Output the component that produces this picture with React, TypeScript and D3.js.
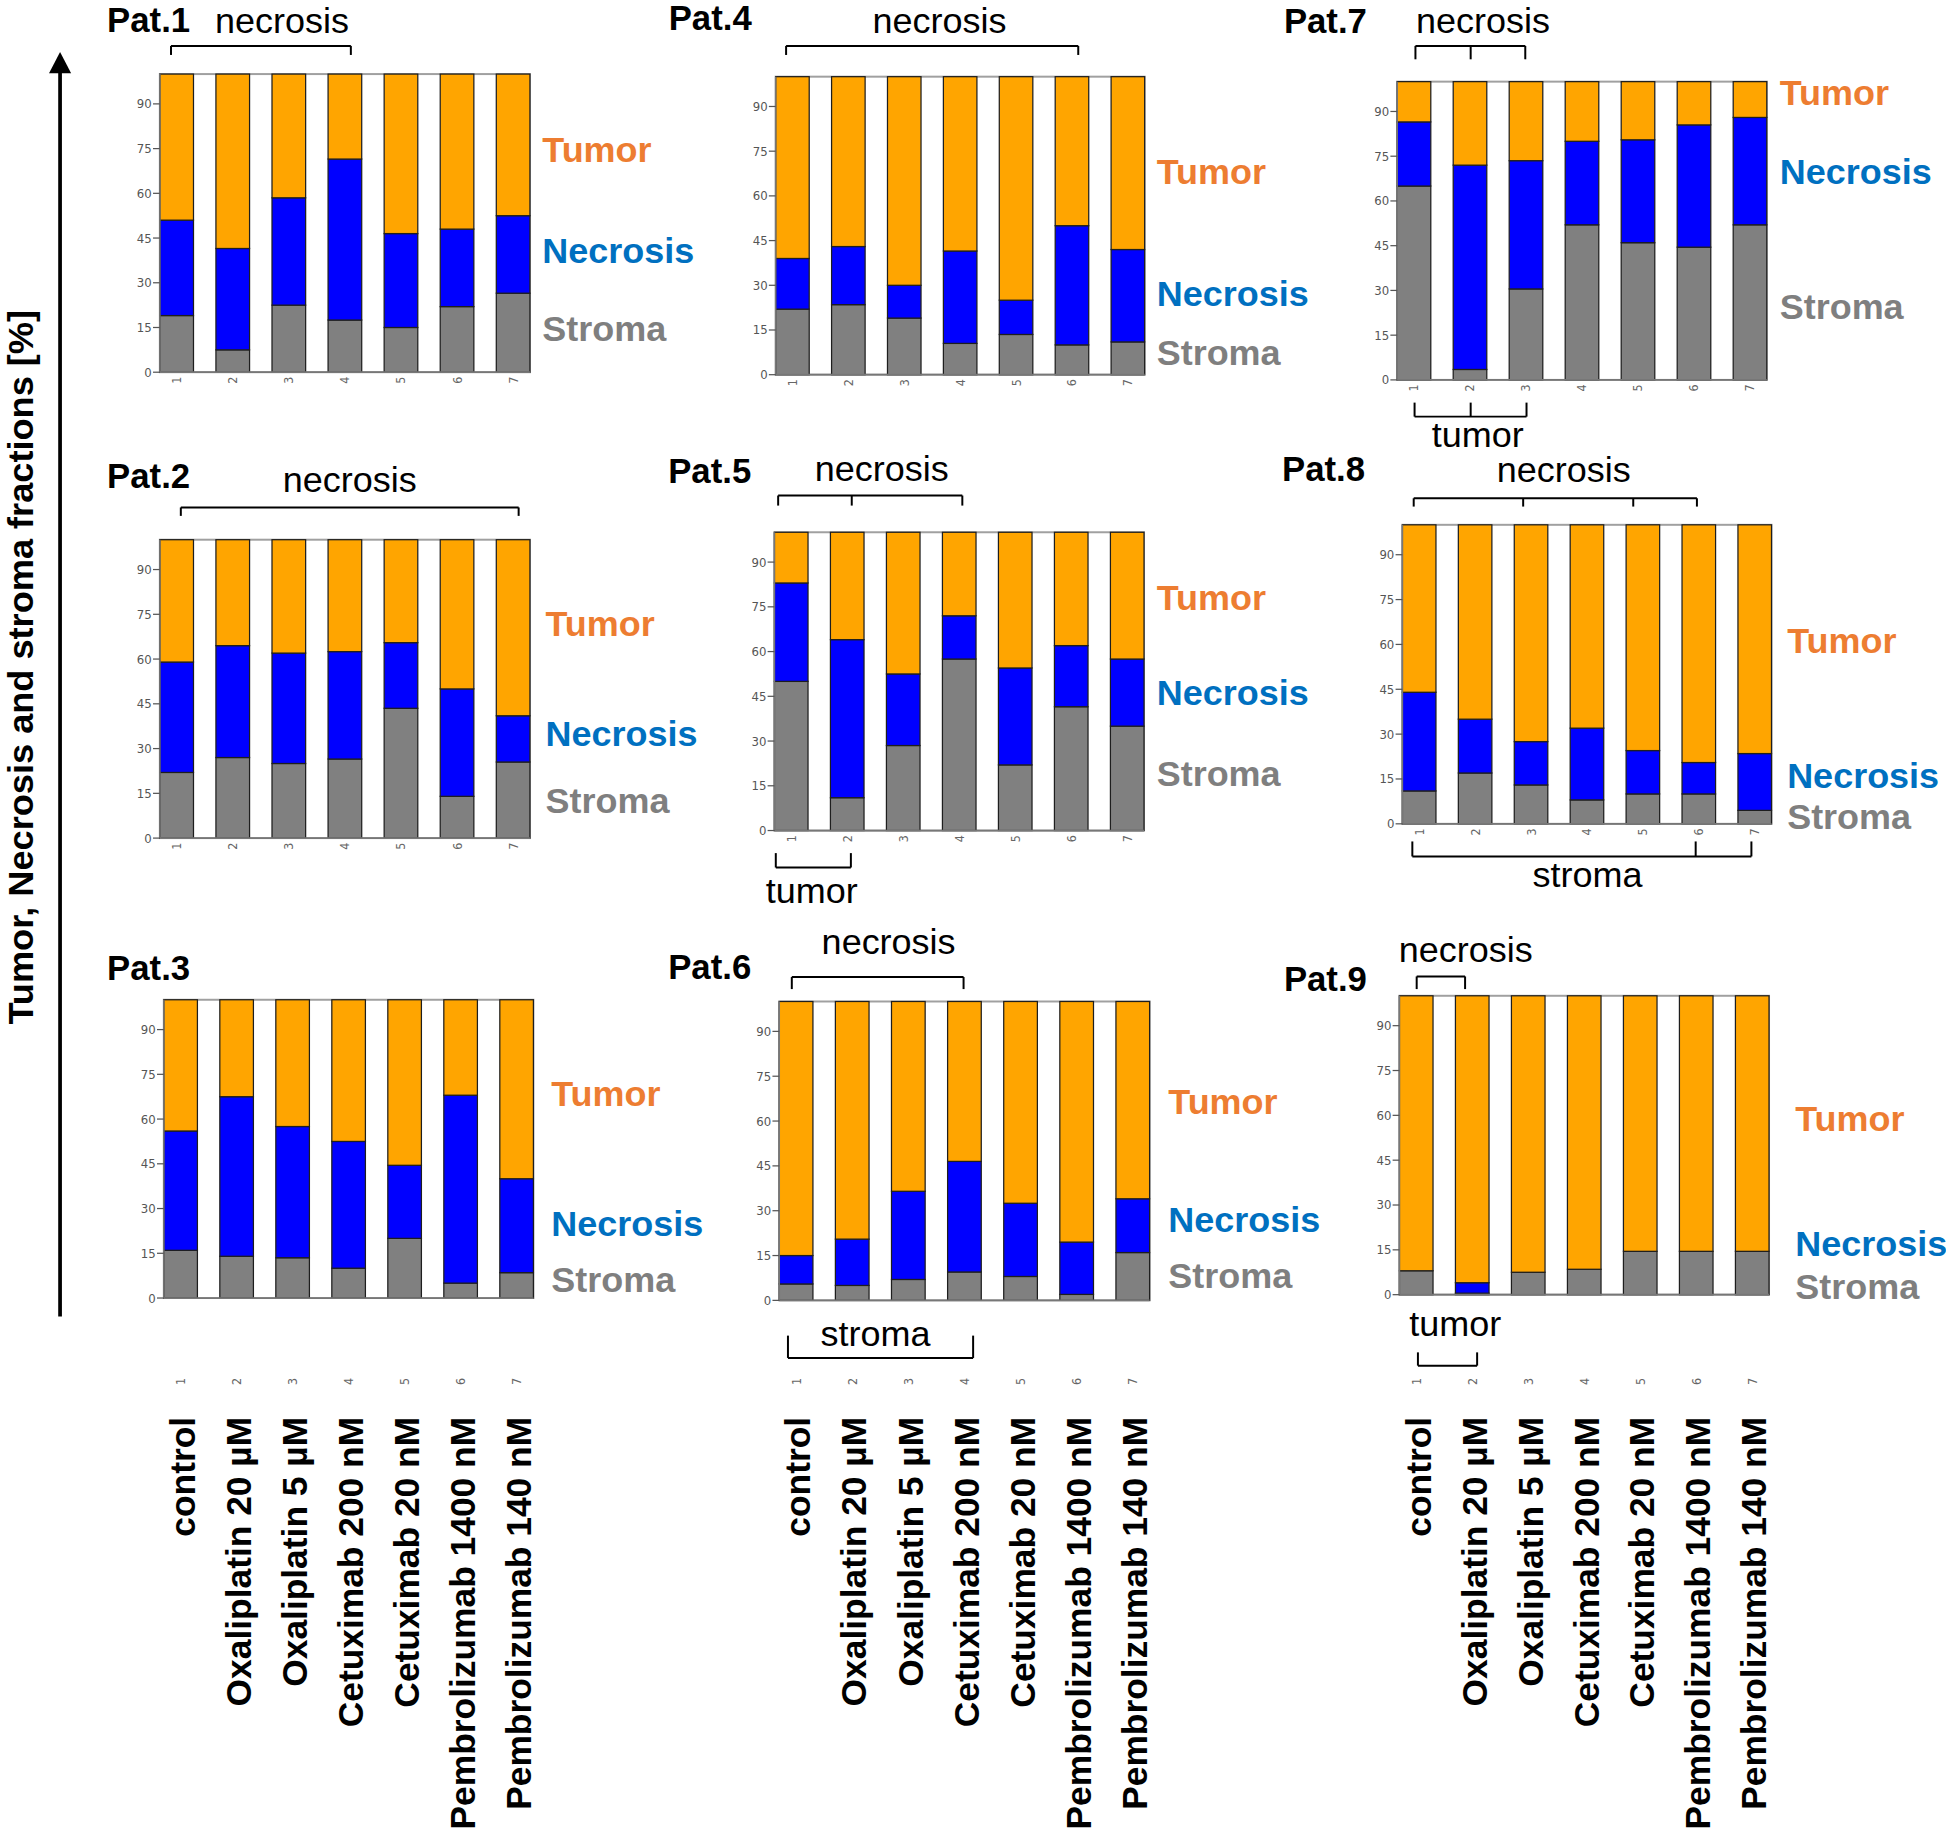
import React from "react";
import * as d3 from "d3";

// ---------- data ----------
const sampleIds = ["1", "2", "3", "4", "5", "6", "7"];
const treatments = [
  "control",
  "Oxaliplatin 20 µM",
  "Oxaliplatin 5 µM",
  "Cetuximab 200 nM",
  "Cetuximab 20 nM",
  "Pembrolizumab 1400 nM",
  "Pembrolizumab 140 nM",
];
const yTicks = [0, 15, 30, 45, 60, 75, 90];
const keys = ["stroma", "necrosis", "tumor"];
const legendNames = ["Stroma", "Necrosis", "Tumor"];

const pat1Stroma = [19, 7.5, 22.5, 17.5, 15, 22, 26.5];
const pat1Necrosis = [32, 34, 36, 54, 31.5, 26, 26];
const pat1Tumor = [49, 58.5, 41.5, 28.5, 53.5, 52, 47.5];

const pat2Stroma = [22, 27, 25, 26.5, 43.5, 14, 25.5];
const pat2Necrosis = [37, 37.5, 37, 36, 22, 36, 15.5];
const pat2Tumor = [41, 35.5, 38, 37.5, 34.5, 50, 59];

const pat3Stroma = [16, 14, 13.5, 10, 20, 5, 8.5];
const pat3Necrosis = [40, 53.5, 44, 42.5, 24.5, 63, 31.5];
const pat3Tumor = [44, 32.5, 42.5, 47.5, 55.5, 32, 60];

const pat4Stroma = [22, 23.5, 19, 10.5, 13.5, 10, 11];
const pat4Necrosis = [17, 19.5, 11, 31, 11.5, 40, 31];
const pat4Tumor = [61, 57, 70, 58.5, 75, 50, 58];

const pat5Stroma = [50, 11, 28.5, 57.5, 22, 41.5, 35];
const pat5Necrosis = [33, 53, 24, 14.5, 32.5, 20.5, 22.5];
const pat5Tumor = [17, 36, 47.5, 28, 45.5, 38, 42.5];

const pat6Stroma = [5.5, 5, 7, 9.5, 8, 2, 16];
const pat6Necrosis = [9.5, 15.5, 29.5, 37, 24.5, 17.5, 18];
const pat6Tumor = [85, 79.5, 63.5, 53.5, 67.5, 80.5, 66];

const pat7Stroma = [65, 3.5, 30.5, 52, 46, 44.5, 52];
const pat7Necrosis = [21.5, 68.5, 43, 28, 34.5, 41, 36];
const pat7Tumor = [13.5, 28, 26.5, 20, 19.5, 14.5, 12];

const pat8Stroma = [11, 17, 13, 8, 10, 10, 4.5];
const pat8Necrosis = [33, 18, 14.5, 24, 14.5, 10.5, 19];
const pat8Tumor = [56, 65, 72.5, 68, 75.5, 79.5, 76.5];

const pat9Stroma = [8, 0.5, 7.5, 8.5, 14.5, 14.5, 14.5];
const pat9Necrosis = [0, 3.5, 0, 0, 0, 0, 0];
const pat9Tumor = [92, 96, 92.5, 91.5, 85.5, 85.5, 85.5];

const yAxisTitle = "Tumor, Necrosis and stroma fractions [%]";

// ---------- layout (reference units, viewBox 1568 x 1479) ----------
const colors = { stroma: "#808080", necrosis: "#0000ff", tumor: "#ffa500" };
const labelColors = { stroma: "#7f7f7f", necrosis: "#0070c0", tumor: "#ed7d31" };
const FONT = "'Liberation Sans', Arial, Helvetica, sans-serif";

const panels = [
  { name: "Pat.1", data: [pat1Stroma, pat1Necrosis, pat1Tumor], x0: 128.8, x1: 427, y0: 59.7, y1: 300, tx: 86.3, ty: 26, lx: 437, ly: [274.5, 212, 130.8], numbers: true },
  { name: "Pat.4", data: [pat4Stroma, pat4Necrosis, pat4Tumor], x0: 625, x1: 922.3, y0: 61.8, y1: 302, tx: 538.8, ty: 24.5, lx: 932, ly: [294, 247, 148.3], numbers: true },
  { name: "Pat.7", data: [pat7Stroma, pat7Necrosis, pat7Tumor], x0: 1125.8, x1: 1423.6, y0: 65.8, y1: 306.2, tx: 1034.5, ty: 26.9, lx: 1434, ly: [257.3, 148.3, 84.6], numbers: true },
  { name: "Pat.2", data: [pat2Stroma, pat2Necrosis, pat2Tumor], x0: 128.8, x1: 427, y0: 435, y1: 675.5, tx: 86.3, ty: 393.5, lx: 439.5, ly: [654.9, 601, 513], numbers: true },
  { name: "Pat.5", data: [pat5Stroma, pat5Necrosis, pat5Tumor], x0: 624, x1: 921.8, y0: 429, y1: 669.4, tx: 538.4, ty: 388.9, lx: 932, ly: [633.4, 568.6, 491.5], numbers: true },
  { name: "Pat.8", data: [pat8Stroma, pat8Necrosis, pat8Tumor], x0: 1130, x1: 1427.4, y0: 423, y1: 664, tx: 1033, ty: 387.3, lx: 1440, ly: [668.3, 635.2, 526.5], numbers: true },
  { name: "Pat.3", data: [pat3Stroma, pat3Necrosis, pat3Tumor], x0: 132, x1: 429.8, y0: 805.8, y1: 1046.2, tx: 86.3, ty: 789.7, lx: 444.2, ly: [1041.6, 996.5, 891.2], numbers: false },
  { name: "Pat.6", data: [pat6Stroma, pat6Necrosis, pat6Tumor], x0: 627.9, x1: 926.3, y0: 807.2, y1: 1048.1, tx: 538.4, ty: 789.1, lx: 941.4, ly: [1038.1, 993, 897.7], numbers: false },
  { name: "Pat.9", data: [pat9Stroma, pat9Necrosis, pat9Tumor], x0: 1127.6, x1: 1425.4, y0: 802.6, y1: 1043.5, tx: 1034.5, ty: 798.5, lx: 1446.5, ly: [1047, 1012.6, 911.4], numbers: false },
];

const brackets = [
  { y: 37, y2: 44.3, xs: [137.8, 282.7], text: "necrosis", tcx: 227.2, tcy: 26.5 },
  { y: 37, y2: 44.3, xs: [633.4, 868.8], text: "necrosis", tcx: 757, tcy: 26.5 },
  { y: 37, y2: 47.8, xs: [1140.5, 1185, 1229], text: "necrosis", tcx: 1195, tcy: 27 },
  { y: 335.8, y2: 324.5, xs: [1139.8, 1185, 1230], text: "tumor", tcx: 1190.7, tcy: 360 },
  { y: 409, y2: 415.8, xs: [145.7, 417.9], text: "necrosis", tcx: 281.8, tcy: 396.2 },
  { y: 399.4, y2: 407.5, xs: [627, 686.3, 775.4], text: "necrosis", tcx: 710.4, tcy: 387.3 },
  { y: 699.2, y2: 687.6, xs: [625.1, 685.6], text: "tumor", tcx: 654.1, tcy: 727.9 },
  { y: 401.6, y2: 408.3, xs: [1139.1, 1227.3, 1316, 1367.3], text: "necrosis", tcx: 1260, tcy: 388.7 },
  { y: 690.3, y2: 678.2, xs: [1138, 1366.3, 1411.2], text: "stroma", tcx: 1279.1, tcy: 715 },
  { y: 787.5, y2: 797.2, xs: [638, 776.4], text: "necrosis", tcx: 716, tcy: 769 },
  { y: 1094.5, y2: 1076.5, xs: [634.9, 784.1], text: "stroma", tcx: 705.5, tcy: 1085.2 },
  { y: 787, y2: 797.2, xs: [1141.5, 1180.5], text: "necrosis", tcx: 1181, tcy: 775.5 },
  { y: 1100.7, y2: 1090, xs: [1142.5, 1190.2], text: "tumor", tcx: 1172.6, tcy: 1077.1 },
];

function makeX(p: any) {
  return d3.scaleBand<string>().domain(sampleIds).range([p.x0, p.x1]).paddingInner(0.4).paddingOuter(0);
}

function Panel({ p }: { p: any }) {
  const x = makeX(p);
  const y = d3.scaleLinear().domain([0, 100]).range([p.y1, p.y0]);
  const rows = sampleIds.map((id, i) => ({
    id,
    stroma: p.data[0][i],
    necrosis: p.data[1][i],
    tumor: p.data[2][i],
  }));
  const series = d3.stack<any>().keys(keys)(rows);
  const bw = x.bandwidth();
  return (
    <g>
      <text x={p.tx} y={p.ty} fontFamily={FONT} fontWeight="bold" fontSize={28} fill="#000">
        {p.name}
      </text>
      <rect x={p.x0} y={p.y0} width={p.x1 - p.x0} height={p.y1 - p.y0} fill="#fff" stroke="#a0a0a0" strokeWidth={1.6} />
      {series.map((s: any) => (
        <g key={s.key}>
          {s.map((d: any, i: number) => (
            <rect
              key={i}
              x={x(sampleIds[i])}
              y={y(d[1])}
              width={bw}
              height={Math.max(0, y(d[0]) - y(d[1]))}
              fill={(colors as any)[s.key]}
              stroke="#1e1e1e"
              strokeWidth={1}
            />
          ))}
        </g>
      ))}
      <line x1={p.x0} x2={p.x0} y1={p.y0} y2={p.y1} stroke="#777" strokeWidth={1.2} />
      <line x1={p.x0} x2={p.x1} y1={p.y1} y2={p.y1} stroke="#777" strokeWidth={1.4} />
      {yTicks.map((t) => (
        <g key={t}>
          <line x1={p.x0 - 5.5} x2={p.x0} y1={y(t)} y2={y(t)} stroke="#555" strokeWidth={1} />
          <text
            x={p.x0 - 6.5}
            y={y(t)}
            textAnchor="end"
            dominantBaseline="central"
            fontFamily="'DejaVu Sans Condensed', 'DejaVu Sans', sans-serif"
            fontSize={10.5}
            fill="#555"
          >
            {t}
          </text>
        </g>
      ))}
      {p.numbers &&
        sampleIds.map((id) => {
          const cx = (x(id) as number) + bw / 2;
          const cy = p.y1 + 6.5;
          return (
            <text
              key={id}
              transform={`translate(${cx},${cy}) rotate(-90)`}
              textAnchor="middle"
              dominantBaseline="central"
              fontFamily="'DejaVu Sans Condensed', 'DejaVu Sans', sans-serif"
              fontSize={10}
              fill="#666"
            >
              {id}
            </text>
          );
        })}
      {keys.map((k, i) => (
        <text
          key={k}
          x={p.lx}
          y={p.ly[i]}
          fontFamily={FONT}
          fontWeight="bold"
          fontSize={29}
          fill={(labelColors as any)[k]}
        >
          {legendNames[i]}
        </text>
      ))}
    </g>
  );
}

function Bracket({ b }: { b: any }) {
  const xs: number[] = b.xs;
  return (
    <g>
      <line x1={xs[0]} x2={xs[xs.length - 1]} y1={b.y} y2={b.y} stroke="#000" strokeWidth={1.6} />
      {xs.map((xx, i) => (
        <line key={i} x1={xx} x2={xx} y1={b.y} y2={b.y2} stroke="#000" strokeWidth={1.6} />
      ))}
      <text x={b.tcx} y={b.tcy} textAnchor="middle" fontFamily={FONT} fontSize={29} fill="#000">
        {b.text}
      </text>
    </g>
  );
}

export default function App() {
  const bottomPanels = panels.slice(6);
  return (
    <svg
      width={1946}
      height={1835}
      viewBox="0 0 1568 1479"
      preserveAspectRatio="none"
      style={{ position: "absolute", left: 0, top: 0, display: "block", background: "#fff" }}
    >
      <rect x={0} y={0} width={1568} height={1479} fill="#fff" />
      <line x1={48.4} x2={48.4} y1={1061} y2={56} stroke="#000" strokeWidth={3} />
      <polygon points="48.4,42 39.5,59 57.3,59" fill="#000" />
      <text
        transform="translate(26.5,537.8) rotate(-90)"
        textAnchor="middle"
        fontFamily={FONT}
        fontWeight="bold"
        fontSize={28.5}
        fill="#000"
        textLength={576}
        lengthAdjust="spacingAndGlyphs"
      >
        {yAxisTitle}
      </text>
      {panels.map((p) => (
        <Panel key={p.name} p={p} />
      ))}
      {brackets.map((b, i) => (
        <Bracket key={i} b={b} />
      ))}
      {bottomPanels.map((p) => {
        const x = makeX(p);
        const bw = x.bandwidth();
        return (
          <g key={p.name + "-lab"}>
            {sampleIds.map((id) => {
              const cx = (x(id) as number) + bw / 2;
              return (
                <text
                  key={id}
                  transform={`translate(${cx},1113.4) rotate(-90)`}
                  textAnchor="middle"
                  dominantBaseline="central"
                  fontFamily="'DejaVu Sans Condensed', 'DejaVu Sans', sans-serif"
                  fontSize={10}
                  fill="#666"
                >
                  {id}
                </text>
              );
            })}
            {treatments.map((t, i) => {
              const bx = (x(sampleIds[i]) as number) + bw / 2 + 11.5;
              return (
                <text
                  key={t}
                  transform={`translate(${bx},1142) rotate(-90)`}
                  textAnchor="end"
                  fontFamily={FONT}
                  fontWeight="bold"
                  fontSize={28.5}
                  fill="#000"
                >
                  {t}
                </text>
              );
            })}
          </g>
        );
      })}
    </svg>
  );
}
